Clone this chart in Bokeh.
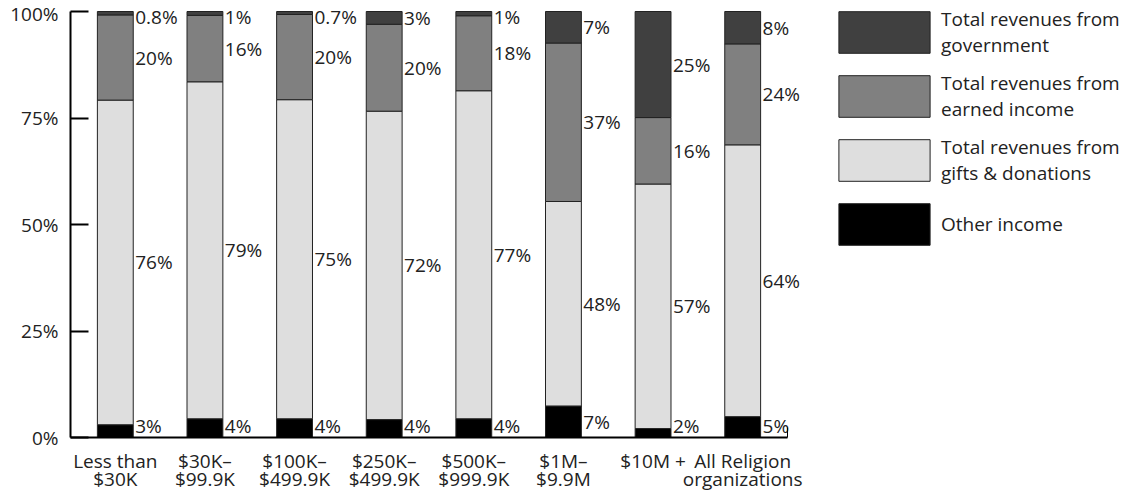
from bokeh.plotting import figure
from bokeh.models import (Range1d, FixedTicker, Legend, LegendItem, ColumnDataSource)
from bokeh.core.properties import value
from bokeh.embed import file_html
from bokeh.resources import INLINE

categories = ["Less than\n$30K", "$30K–\n$99.9K", "$100K–\n$499.9K", "$250K–\n$499.9K",
              "$500K–\n$999.9K", "$1M–\n$9.9M", "$10M +", "All Religion\norganizations"]

other = [3.0, 4.4, 4.4, 4.2, 4.4, 7.4, 2.1, 4.9]
gifts = [76.2, 79.1, 74.9, 72.4, 77.0, 48.0, 57.4, 63.8]
earned = [20.0, 15.6, 20.0, 20.4, 17.6, 37.2, 15.6, 23.7]
government = [0.8, 0.9, 0.7, 3.0, 1.0, 7.4, 24.9, 7.6]

other_labels = ["3%", "4%", "4%", "4%", "4%", "7%", "2%", "5%"]
gifts_labels = ["76%", "79%", "75%", "72%", "77%", "48%", "57%", "64%"]
earned_labels = ["20%", "16%", "20%", "20%", "18%", "37%", "16%", "24%"]
government_labels = ["0.8%", "1%", "0.7%", "3%", "1%", "7%", "25%", "8%"]

y_ticks = [0, 25, 50, 75, 100]
y_tick_labels = ["0%", "25%", "50%", "75%", "100%"]

series = [
    ("other", other, other_labels, "#000000", "Other income"),
    ("gifts", gifts, gifts_labels, "#dedede", "Total revenues from\ngifts & donations"),
    ("earned", earned, earned_labels, "#808080", "Total revenues from\nearned income"),
    ("government", government, government_labels, "#404040", "Total revenues from\ngovernment"),
]

FONT = "Open Sans"
TXT = "#222222"

n = len(categories)
xs = [i + 0.5 for i in range(n)]
# plot area spans to the right/top edges so labels and legend are not clipped;
# the axes themselves are bounded to the data extent
x_end = n * (1126 - 70) / (787 - 70)
y_end = 100 + 11 * 100 / (437 - 11)

p = figure(x_range=Range1d(0, x_end), y_range=Range1d(0, y_end),
           width=1126, height=495, output_backend="svg", toolbar_location=None,
           min_border_left=70, min_border_right=0, min_border_top=0, min_border_bottom=58)
p.outline_line_color = None
p.xgrid.grid_line_color = None
p.ygrid.grid_line_color = None
p.background_fill_color = "white"
p.border_fill_color = "white"

bottoms = [0.0] * n
renderers = {}
for key, vals, labels, color, name in series:
    tops = [b + v for b, v in zip(bottoms, vals)]
    mids = [min(max(b + v / 2.0, 2.6), 98.6) for b, v in zip(bottoms, vals)]
    src = ColumnDataSource(dict(x=xs, lx=[x + 0.2 for x in xs], bottom=bottoms,
                                top=tops, mid=mids, lab=labels))
    r = p.vbar(x="x", bottom="bottom", top="top", width=0.40, source=src,
               fill_color=color, line_color="#222222", line_width=1)
    renderers[key] = r
    p.text(x="lx", y="mid", text="lab", source=src,
           x_offset=2, text_align="left", text_baseline="middle",
           text_font=value(FONT), text_font_size="19px", text_color=TXT)
    bottoms = tops

# axes
p.yaxis.bounds = (0, 100)
p.yaxis.ticker = FixedTicker(ticks=y_ticks)
p.yaxis.major_label_overrides = {t: l for t, l in zip(y_ticks, y_tick_labels)}
p.yaxis.minor_tick_line_color = None
p.yaxis.major_tick_in = 18
p.yaxis.major_tick_out = 0
p.yaxis.major_tick_line_width = 2
p.yaxis.axis_line_width = 2
p.yaxis.major_label_standoff = 12
p.yaxis.major_label_text_font = FONT
p.yaxis.major_label_text_font_size = "19px"
p.yaxis.major_label_text_color = TXT
p.yaxis.major_label_text_baseline = "hanging"

p.xaxis.bounds = (0, n)
p.xaxis.ticker = FixedTicker(ticks=xs, minor_ticks=[n])
p.xaxis.major_label_overrides = {x: c for x, c in zip(xs, categories)}
p.xaxis.major_tick_in = 0
p.xaxis.major_tick_out = 0
p.xaxis.minor_tick_in = 10
p.xaxis.minor_tick_out = 0
p.xaxis.minor_tick_line_width = 1
p.xaxis.axis_line_width = 2
p.xaxis.major_label_standoff = 10
p.xaxis.major_label_text_font = FONT
p.xaxis.major_label_text_font_size = "19px"
p.xaxis.major_label_text_color = TXT
p.xaxis.major_label_text_line_height = 0.7

legend = Legend(items=[
    LegendItem(label=series[3][4], renderers=[renderers["government"]]),
    LegendItem(label=series[2][4], renderers=[renderers["earned"]]),
    LegendItem(label=series[1][4], renderers=[renderers["gifts"]]),
    LegendItem(label=series[0][4], renderers=[renderers["other"]]),
], location=(757, 187))
legend.glyph_width = 114
legend.glyph_height = 52
legend.label_height = 52
legend.spacing = 12
legend.label_standoff = 0
legend.padding = 0
legend.margin = 0
legend.border_line_color = None
legend.background_fill_alpha = 0
legend.label_text_font = FONT
legend.label_text_font_size = "19px"
legend.label_text_color = TXT
legend.label_text_line_height = 1.0
p.add_layout(legend)

open("out.html", "w").write(file_html(p, INLINE))
